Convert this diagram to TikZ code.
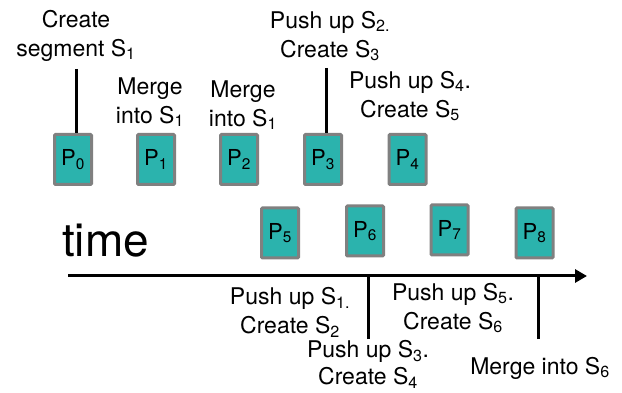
\documentclass[tikz,border=0pt]{standalone}
\usepackage{fontspec}
\setmainfont{TeX Gyre Heros}
\usetikzlibrary{arrows.meta,positioning}
\definecolor{pteal}{RGB}{43,179,173}
\definecolor{pgray}{RGB}{128,128,128}
\tikzstyle{page} = [rectangle, minimum width=37pt, minimum height=50pt, inner sep=0pt, draw=pgray, fill=pteal, line width=3pt, rounded corners=1pt, font=\fontsize{22}{26}\selectfont]
\tikzstyle{note} = [align=center, inner sep=0pt, font=\fontsize{23}{29}\selectfont]
\tikzstyle{tick} = [line width=3pt]
\tikzstyle{timeline} = [line width=3pt, -{Triangle[length=12pt,width=13pt]}]

\begin{document}
\begin{tikzpicture}[x=1pt, y=-1pt]
\useasboundingbox (0,0) rectangle (622,393);

% Pages, first row
\node (p0) [page] at (73,159.5) {P\textsubscript{0}};
\node (p1) [page] at (156,159.5) {P\textsubscript{1}};
\node (p2) [page] at (239,159.5) {P\textsubscript{2}};
\node (p3) [page] at (323,159.5) {P\textsubscript{3}};
\node (p4) [page] at (407.5,159.5) {P\textsubscript{4}};

% Pages, second row
\node (p5) [page] at (280,233) {P\textsubscript{5}};
\node (p6) [page] at (365,231) {P\textsubscript{6}};
\node (p7) [page] at (449.5,230) {P\textsubscript{7}};
\node (p8) [page] at (534.5,233) {P\textsubscript{8}};

% Notes above
\node (seg1) [note] at (76,35.5) {Create\\segment S\textsubscript{1}};
\node (merge1) [note] at (150,102) {Merge\\into S\textsubscript{1}};
\node (merge2) [note] at (243,105) {Merge\\into S\textsubscript{1}};
\node (push2) [note] at (330,36) {Push up S\textsubscript{2.}\\Create S\textsubscript{3}};
\node (push4) [note] at (410,96) {Push up S\textsubscript{4}.\\Create S\textsubscript{5}};

% Time axis
\node (time) [anchor=base west, inner sep=0pt, font=\fontsize{46}{50}\selectfont] at (62,257) {time};
\coordinate (tstart) at (68,276);
\coordinate (tend) at (587,276);
\draw[timeline] (tstart) -- (tend);

% Notes below
\node (push1) [note] at (290,312.5) {Push up S\textsubscript{1.}\\Create S\textsubscript{2}};
\node (push5) [note] at (453,308) {Push up S\textsubscript{5}.\\Create S\textsubscript{6}};
\node (push3) [note, font=\fontsize{23}{27}\selectfont] at (368,364.5) {Push up S\textsubscript{3}.\\Create S\textsubscript{4}};
\node (merge6) [note, anchor=base] at (540,374) {Merge into S\textsubscript{6}};

% Ticks
\coordinate (t0) at (76,69);
\coordinate (t3) at (326,68);
\coordinate (b3) at (368,339);
\coordinate (b6) at (538,339);
\draw[tick] (t0) -- (t0 |- p0.north);
\draw[tick] (t3) -- (t3 |- p3.north);
\draw[tick] (b3) -- (b3 |- tstart);
\draw[tick] (b6) -- (b6 |- tstart);
\end{tikzpicture}
\end{document}
